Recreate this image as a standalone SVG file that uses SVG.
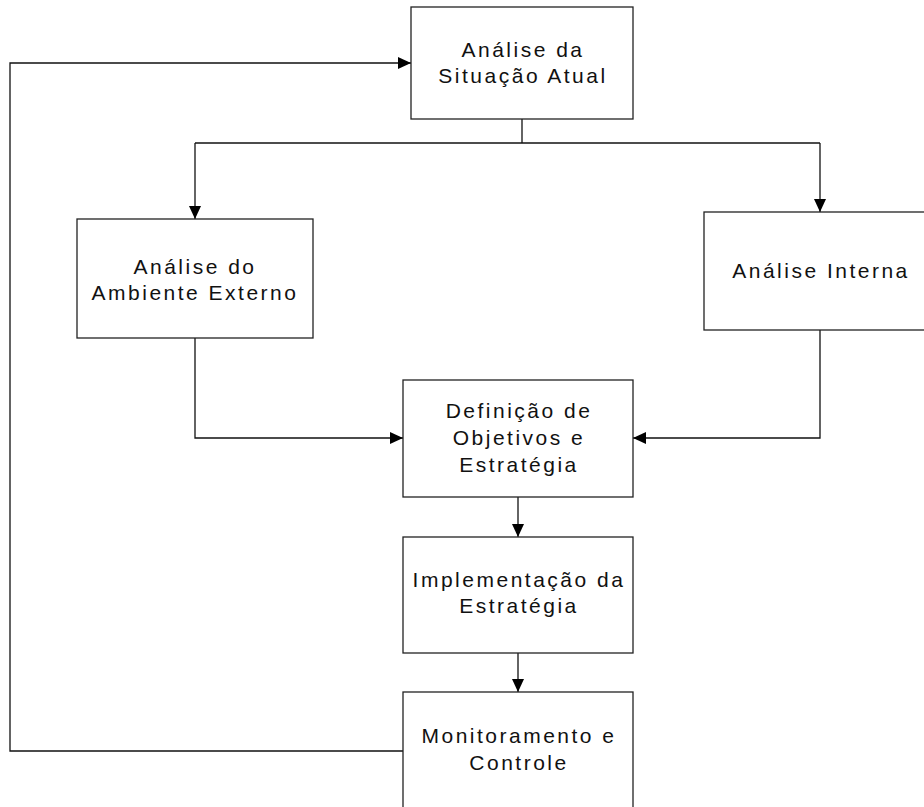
<svg xmlns="http://www.w3.org/2000/svg" width="924" height="807" viewBox="0 0 924 807">
<defs>
<marker id="arr" markerWidth="13" markerHeight="12" refX="13" refY="6" orient="auto" markerUnits="userSpaceOnUse">
<path d="M0,0 L13,6 L0,12 z" fill="#000"/>
</marker>
<style>
.box{fill:#fff;stroke:#222;stroke-width:1.3}
.lbl{font-family:"Liberation Sans",Arial,sans-serif;font-size:21px;letter-spacing:2.5px;fill:#111;text-anchor:middle}
.con{fill:none;stroke:#111;stroke-width:1.3}
</style>
</defs>
<rect width="924" height="807" fill="#fff"/>
<g id="connectors">
<polyline class="con" points="522,119 522,143"/>
<polyline class="con" points="195,143 820,143"/>
<polyline class="con" points="195,143 195,219" marker-end="url(#arr)"/>
<polyline class="con" points="820,143 820,212" marker-end="url(#arr)"/>
<polyline class="con" points="195,338 195,438 403,438" marker-end="url(#arr)"/>
<polyline class="con" points="820,330 820,438 633,438" marker-end="url(#arr)"/>
<polyline class="con" points="518,497 518,537" marker-end="url(#arr)"/>
<polyline class="con" points="518,653 518,692" marker-end="url(#arr)"/>
<polyline class="con" points="403,751 10,751 10,63 411,63" marker-end="url(#arr)"/>
</g>
<g id="n-situacao">
<rect class="box" x="411" y="7" width="222" height="112"/>
<text class="lbl" x="523" y="57">Análise da</text>
<text class="lbl" x="523" y="83">Situação Atual</text>
</g>
<g id="n-externo">
<rect class="box" x="77" y="219" width="236" height="119"/>
<text class="lbl" x="195" y="274">Análise do</text>
<text class="lbl" x="195" y="300">Ambiente Externo</text>
</g>
<g id="n-interna">
<rect class="box" x="704" y="212" width="240" height="118"/>
<text class="lbl" x="821" y="278">Análise Interna</text>
</g>
<g id="n-definicao">
<rect class="box" x="403" y="380" width="230" height="117"/>
<text class="lbl" x="519" y="418">Definição de</text>
<text class="lbl" x="519" y="445">Objetivos e</text>
<text class="lbl" x="519" y="472">Estratégia</text>
</g>
<g id="n-implementacao">
<rect class="box" x="403" y="537" width="230" height="116"/>
<text class="lbl" x="519" y="587">Implementação da</text>
<text class="lbl" x="519" y="613">Estratégia</text>
</g>
<g id="n-monitoramento">
<rect class="box" x="403" y="692" width="230" height="130"/>
<text class="lbl" x="519" y="743">Monitoramento e</text>
<text class="lbl" x="519" y="770">Controle</text>
</g>
</svg>
